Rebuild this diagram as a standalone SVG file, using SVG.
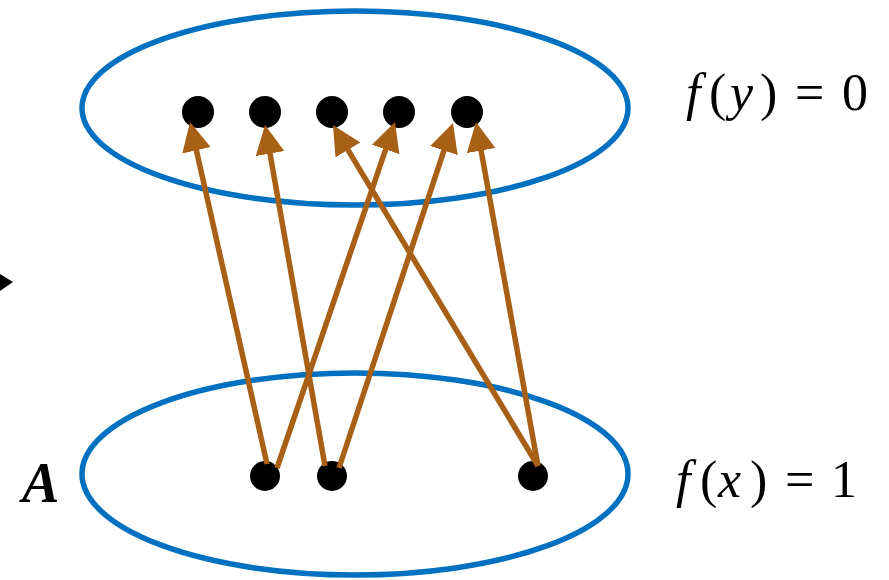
<svg xmlns="http://www.w3.org/2000/svg" width="889" height="580" viewBox="0 0 889 580">
<style>
.set{fill:none;stroke:#0070C0;stroke-width:5.5}
.dot{fill:#000}
.edge{stroke:#A86016;stroke-width:5.5;fill:none;marker-end:url(#ah)}
.math{font-family:"Liberation Serif","DejaVu Serif",serif;font-size:52px;fill:#000}
.it{font-style:italic}
</style>
<defs>
<marker id="ah" markerUnits="userSpaceOnUse" markerWidth="30" markerHeight="30" refX="21" refY="14.5" orient="auto">
<path d="M0,0 L29,14.5 L0,29 Z" fill="#A86016"/>
</marker>
</defs>
<rect width="889" height="580" fill="#fff"/>
<polygon points="0,274 13,282 0,291" fill="#000"/>
<g id="setY">
<ellipse class="set" cx="355" cy="108" rx="273" ry="97"/>
</g>
<g id="setA">
<ellipse class="set" cx="355" cy="474" rx="273" ry="101"/>
</g>
<g id="y1"><circle class="dot" cx="198" cy="112" r="16"/></g>
<g id="y2"><circle class="dot" cx="265" cy="112" r="16"/></g>
<g id="y3"><circle class="dot" cx="332" cy="112" r="16"/></g>
<g id="y4"><circle class="dot" cx="399" cy="112" r="16"/></g>
<g id="y5"><circle class="dot" cx="467" cy="112" r="16"/></g>
<g id="x1"><circle class="dot" cx="265" cy="476" r="15"/></g>
<g id="x2"><circle class="dot" cx="332" cy="476" r="15"/></g>
<g id="x3"><circle class="dot" cx="533" cy="476" r="15"/></g>
<g id="connectors">
<line class="edge" x1="267" y1="464" x2="191.8" y2="129.8"/>
<line class="edge" x1="277" y1="468" x2="392.4" y2="129.6"/>
<line class="edge" x1="325" y1="466" x2="266.4" y2="132.9"/>
<line class="edge" x1="339" y1="468" x2="450.5" y2="130.6"/>
<line class="edge" x1="538" y1="466" x2="337.1" y2="131.9"/>
<line class="edge" x1="538" y1="466" x2="477.4" y2="129.9"/>
</g>
<g id="labelY">
<text class="math" y="110"><tspan class="it" x="686">f</tspan><tspan x="709">(</tspan><tspan class="it" x="730">y</tspan><tspan x="760">)</tspan><tspan x="795">=</tspan><tspan x="842">0</tspan></text>
</g>
<g id="labelX">
<text class="math" y="497"><tspan class="it" x="676">f</tspan><tspan x="700">(</tspan><tspan class="it" x="718">x</tspan><tspan x="750">)</tspan><tspan x="785">=</tspan><tspan x="831">1</tspan></text>
</g>
<g id="labelA">
<text x="22" y="502" style="font-family:'Liberation Serif','DejaVu Serif',serif;font-size:56px;font-weight:bold;font-style:italic">A</text>
</g>
</svg>
